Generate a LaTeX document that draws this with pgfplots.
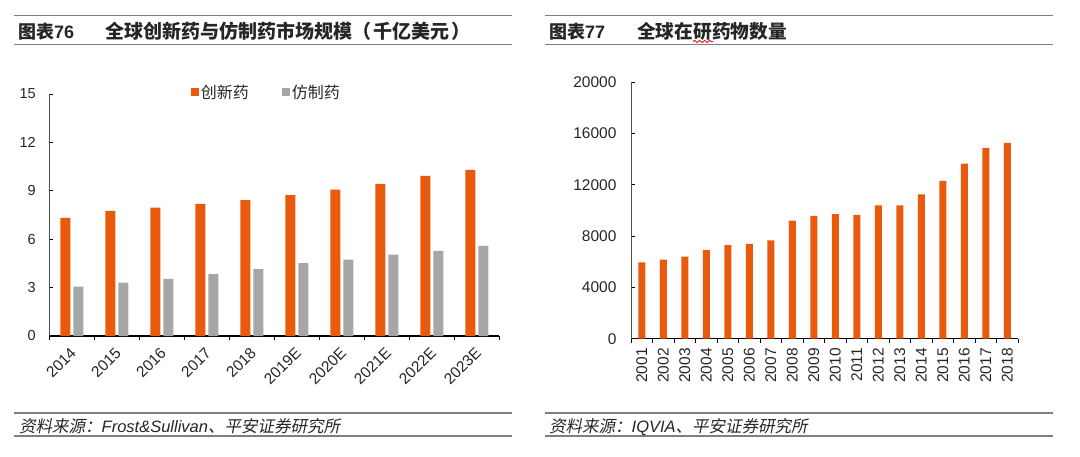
\documentclass[border=0pt]{standalone}
\usepackage{fontspec}
\setmainfont{Liberation Sans}
\newfontfamily\cjk{Noto Sans CJK SC}
\newfontfamily\cjkit[FakeSlant=0.2]{Noto Sans CJK SC}
\usepackage{pgfplots}
\usepackage{pgfplotstable}
\pgfplotsset{compat=1.18}
\usetikzlibrary{decorations.pathmorphing}
\definecolor{myorange}{HTML}{E95A0C}
\definecolor{mygrey}{HTML}{A6A6A6}
\definecolor{linegrey}{HTML}{7F7F7F}
\definecolor{txt}{HTML}{262626}

\pgfplotstableread{
x innov generic
0 7.32 3.06
1 7.76 3.31
2 7.95 3.54
3 8.19 3.83
4 8.42 4.14
5 8.73 4.51
6 9.08 4.74
7 9.43 5.05
8 9.93 5.28
9 10.30 5.59
}\marketdata

\pgfplotstableread{
x n
0 5950
1 6160
2 6390
3 6910
4 7300
5 7380
6 7660
7 9200
8 9560
9 9710
10 9640
11 10390
12 10390
13 11250
14 12290
15 13640
16 14860
17 15250
}\pipelinedata

\begin{document}
\begin{tikzpicture}[x=1pt,y=1pt]
\path[use as bounding box] (0,0) rectangle (1080,456);

% ---------- headers ----------
\draw[linegrey, line width=1.3pt] (14,440.3) -- (512,440.3);
\draw[linegrey, line width=1.3pt] (14,411.5) -- (512,411.5);
\draw[linegrey, line width=1.3pt] (545,440.3) -- (1053,440.3);
\draw[linegrey, line width=1.3pt] (545,411.5) -- (1053,411.5);
\node[anchor=base west, inner sep=0, text=txt, font=\fontsize{18}{20}\selectfont] at (18,417) {{\cjk\bfseries 图表}\textbf{76}};
\node[anchor=base west, inner sep=0, text=txt, font=\fontsize{19}{21}\selectfont] at (105,417) {\cjk\bfseries 全球创新药与仿制药市场规模（\kern2pt 千亿美元\kern2pt）};
\node[anchor=base west, inner sep=0, text=txt, font=\fontsize{18}{20}\selectfont] at (549,417) {{\cjk\bfseries 图表}\textbf{77}};
\node[anchor=base west, inner sep=0, text=txt, font=\fontsize{18.7}{20}\selectfont] at (637,417) {\cjk\bfseries 全球在研药物数量};
\draw[red, line width=0.8pt, decorate, decoration={snake, amplitude=1.2pt, segment length=5pt}] (693,414.5) -- (713,414.5);

% ---------- footers ----------
\draw[linegrey, line width=1.3pt] (14,43) -- (512,43);
\draw[linegrey, line width=1.3pt] (14,20) -- (512,20);
\draw[linegrey, line width=1.3pt] (545,43) -- (1053,43);
\draw[linegrey, line width=1.3pt] (545,20) -- (1053,20);
\node[anchor=base west, inner sep=0, text=txt, font=\fontsize{16.5}{18}\selectfont] at (19,24) {{\cjkit 资料来源：}{\itshape Frost\&Sullivan}{\cjkit 、平安证券研究所}};
\node[anchor=base west, inner sep=0, text=txt, font=\fontsize{16.5}{18}\selectfont] at (549,24) {{\cjkit 资料来源：}{\itshape IQVIA}{\cjkit 、平安证券研究所}};

% ---------- left chart ----------
\begin{axis}[
  at={(49.3pt,120pt)}, anchor=south west,
  scale only axis, width=450pt, height=242pt,
  xmin=-0.5, xmax=9.5, ymin=0, ymax=15,
  axis lines*=left,
  x axis line style={black, line width=1.3pt},
  y axis line style={black!70, line width=0.8pt},
  tick align=inside, major tick length=4pt,
  tick style={black, line width=0.9pt},
  ytick={0,3,...,15},
  xtick={-0.5,0.5,...,9.5}, xticklabels={},
  extra x ticks={0,...,9},
  extra x tick labels={2014,2015,2016,2017,2018,2019E,2020E,2021E,2022E,2023E},
  extra x tick style={major tick length=0pt,
     xticklabel style={xshift=4pt, yshift=-12pt, rotate=45, anchor=east, font=\fontsize{15.5}{17}\selectfont}},
  ticklabel style={font=\fontsize{14.5}{16}\selectfont, text=txt},
  yticklabel style={xshift=-10pt},
  /pgf/number format/assume math mode=true,
  ybar, bar width=10pt,
  legend style={at={(0.315,1.008)}, anchor=west, draw=none, fill=none,
     inner sep=0pt, font=\fontsize{16}{18}\selectfont\cjk, text=txt,
     legend columns=2, /tikz/column 2/.style={column sep=32pt},
     nodes={inner sep=1.5pt}},
  legend image code/.code={\fill[#1,draw=none] (0pt,-4pt) rectangle (8pt,4pt);},
  clip=false,
]
\addplot[fill=myorange, draw=none, bar shift=-6.5pt] table[x=x, y=innov] {\marketdata};
\addlegendentry{创新药}
\addplot[fill=mygrey, draw=none, bar shift=6.5pt] table[x=x, y=generic] {\marketdata};
\addlegendentry{仿制药}
\end{axis}

% ---------- right chart ----------
\begin{axis}[
  at={(631pt,117.3pt)}, anchor=south west,
  scale only axis, width=387pt, height=256.7pt,
  xmin=-0.5, xmax=17.5, ymin=0, ymax=20000,
  axis lines*=left,
  x axis line style={black, line width=1.3pt},
  y axis line style={black!70, line width=0.8pt},
  tick align=inside, major tick length=4pt,
  tick style={black, line width=0.9pt},
  ytick={0,4000,...,20000},
  scaled y ticks=false,
  yticklabel={\pgfmathprintnumber[fixed, set thousands separator={}]{\tick}},
  xtick={-0.5,0.5,...,17.5}, xticklabels={},
  extra x ticks={0,...,17},
  extra x tick labels={2001,2002,2003,2004,2005,2006,2007,2008,2009,2010,2011,2012,2013,2014,2015,2016,2017,2018},
  extra x tick style={major tick length=0pt,
     xticklabel style={yshift=-6pt, rotate=90, anchor=east, font=\fontsize{15.5}{17}\selectfont}},
  ticklabel style={font=\fontsize{15.5}{17}\selectfont, text=txt},
  yticklabel style={xshift=-11pt},
  /pgf/number format/assume math mode=true,
  ybar, bar width=7pt,
  clip=false,
]
\addplot[fill=myorange, draw=none, bar shift=0pt] table[x=x, y=n] {\pipelinedata};
\end{axis}
\end{tikzpicture}
\end{document}
